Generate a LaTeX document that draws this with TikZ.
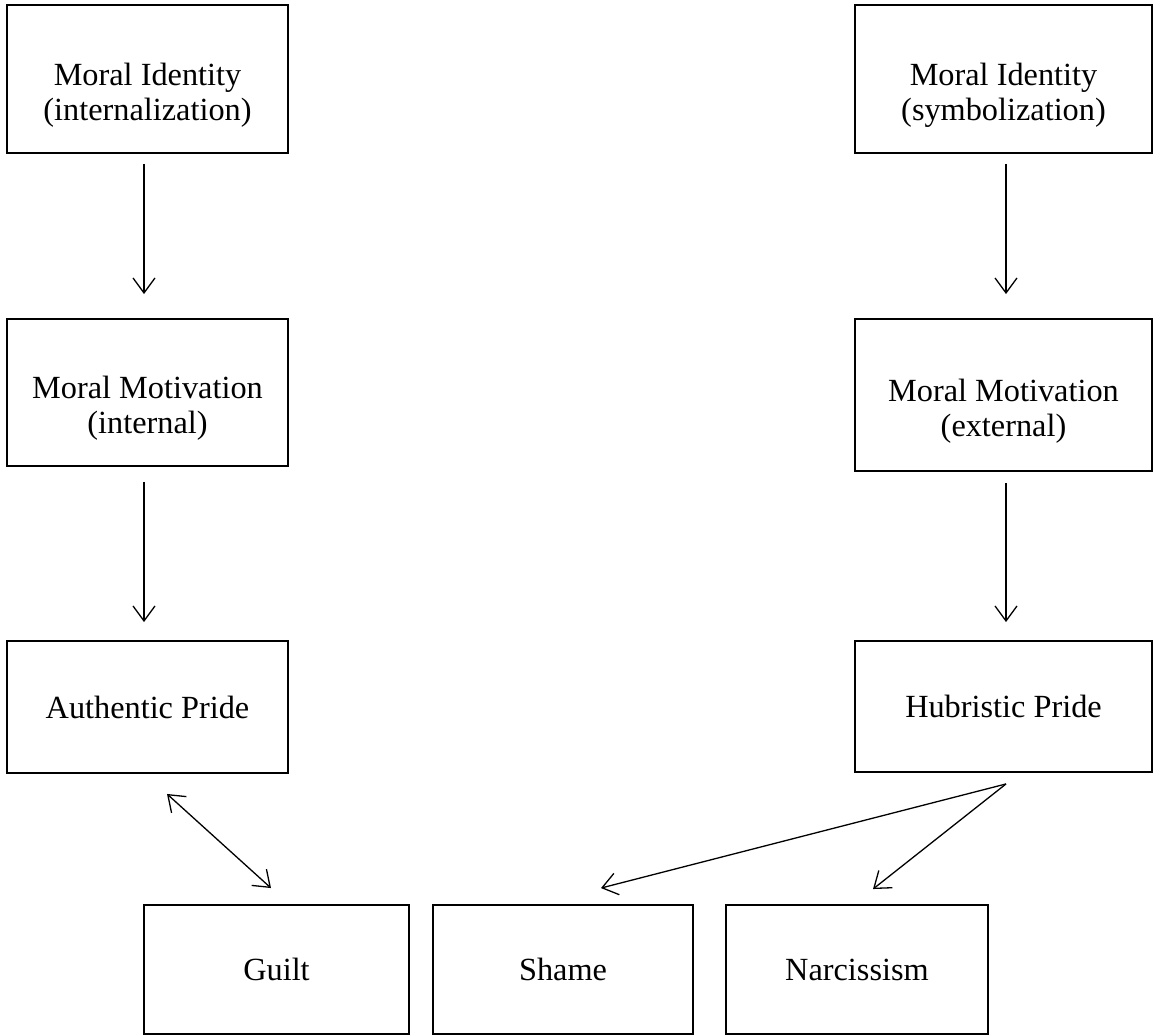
\documentclass[tikz,border=0pt]{standalone}
\usepackage{fontspec}
\setmainfont{Liberation Serif}
\usetikzlibrary{arrows.meta,calc}
\newcommand{\twolines}[2]{\raisebox{-23pt}[0pt][0pt]{\setlength{\tabcolsep}{0pt}\begin{tabular}{c}#1\\#2\end{tabular}}}
\begin{document}
\begin{tikzpicture}[x=1pt,y=-1pt,
  box/.style={draw, line width=1.9pt, rectangle, inner sep=0pt, align=center,
    font=\fontsize{32.3}{35}\selectfont},
  conn/.style={line width=1.3pt, -{Straight Barb[length=15pt,width=22pt,line width=1.3pt]}},
  both/.style={line width=1.3pt, {Straight Barb[length=15pt,width=22pt,line width=1.3pt]}-{Straight Barb[length=15pt,width=22pt,line width=1.3pt]}}
]
\useasboundingbox (0,0) rectangle (1154,1036);
\node[box, minimum width=281pt, minimum height=148pt] (b1) at (147.5,79) {\twolines{Moral Identity}{(internalization)}};
\node[box, minimum width=297pt, minimum height=148pt] (b2) at (1003.5,79) {\twolines{Moral Identity}{(symbolization)}};
\node[box, minimum width=281pt, minimum height=147pt] (b3) at (147.5,392.5) {\twolines{Moral Motivation}{(internal)}};
\node[box, minimum width=297pt, minimum height=152pt] (b4) at (1003.5,395) {\twolines{Moral Motivation}{(external)}};
\node[box, minimum width=281pt, minimum height=132pt] (b5) at (147.5,707) {Authentic Pride};
\node[box, minimum width=297pt, minimum height=131pt] (b6) at (1003.5,706.5) {Hubristic Pride};
\node[box, minimum width=265pt, minimum height=129pt] (g) at (276.5,969.5) {Guilt};
\node[box, minimum width=260pt, minimum height=129pt] (s) at (563,969.5) {Shame};
\node[box, minimum width=262pt, minimum height=129pt] (n) at (857,969.5) {Narcissism};

\draw[conn, shorten <=10pt, shorten >=24pt] ([xshift=-3.5pt]b1.south) -- ([xshift=-3.5pt]b3.north);
\draw[conn, shorten <=10pt, shorten >=24pt] ([xshift=2.5pt]b2.south) -- ([xshift=2.5pt]b4.north);
\draw[conn, shorten <=15pt, shorten >=18pt] ([xshift=-3.5pt]b3.south) -- ([xshift=-3.5pt]b5.north);
\draw[conn, shorten <=11pt, shorten >=18pt] ([xshift=2.5pt]b4.south) -- ([xshift=2.5pt]b6.north);

\coordinate (ab) at ($(b5.south)+(19.5,20)$);
\coordinate (gt) at ($(g.north)+(-5.5,-16)$);
\coordinate (hb) at ($(b6.south)+(2.5,11)$);
\coordinate (st) at ($(s.north)+(38,-16)$);
\coordinate (nt) at ($(n.north)+(16,-15)$);
\draw[both] (ab) -- (gt);
\draw[conn] (hb) -- (st);
\draw[conn] (hb) -- (nt);
\end{tikzpicture}
\end{document}
